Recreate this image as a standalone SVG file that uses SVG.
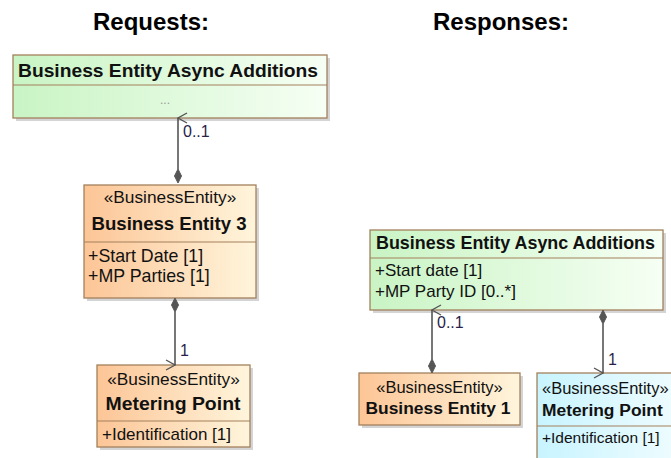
<svg xmlns="http://www.w3.org/2000/svg" width="671" height="458" viewBox="0 0 671 458">
<defs>
<linearGradient id="gOrange" x1="0" y1="0" x2="1" y2="0">
<stop offset="0" stop-color="#fcc596"/>
<stop offset="1" stop-color="#fff5dc"/>
</linearGradient>
<linearGradient id="gGreen" x1="0" y1="0" x2="1" y2="0">
<stop offset="0" stop-color="#c9f4c4"/>
<stop offset="1" stop-color="#f6fff4"/>
</linearGradient>
<linearGradient id="gCyan" x1="0" y1="0" x2="1" y2="0">
<stop offset="0" stop-color="#c8f4ff"/>
<stop offset="1" stop-color="#eefcff"/>
</linearGradient>
<marker id="open" markerWidth="12" markerHeight="12" refX="6" refY="1" orient="auto-start-reverse" markerUnits="userSpaceOnUse" viewBox="0 0 12 12">
<path d="M1,10 L6,1 L11,10" fill="none" stroke="#555" stroke-width="1.4"/>
</marker>
</defs>
<style>
.box{stroke:#a3805c;stroke-width:1.3}
.shadow{fill:#b8b8b8;opacity:0.6}
.sep{stroke:#a3805c;stroke-width:1.2}
.title{font-family:"Liberation Sans",Arial,sans-serif;font-weight:bold;font-size:24px;fill:#000}
.b{font-family:"Liberation Sans",Arial,sans-serif;font-weight:bold;fill:#111}
.r{font-family:"Liberation Sans",Arial,sans-serif;fill:#111}
.lbl{font-family:"Liberation Sans",Arial,sans-serif;font-size:16px;fill:#2a1f4a}
.line{stroke:#555;stroke-width:1.6;fill:none}
.dia{fill:#555;stroke:#555;stroke-width:1}
</style>
<text class="title" x="93" y="30">Requests:</text>
<text class="title" x="433" y="30">Responses:</text>

<g id="req-beaa">
<rect class="shadow" x="16" y="58" width="314" height="63"/>
<rect class="box" x="13" y="55" width="314" height="63" fill="url(#gGreen)"/>
<line class="sep" x1="13" y1="85" x2="327" y2="85"/>
<text class="b" x="18" y="77" font-size="18.8" textLength="300" lengthAdjust="spacingAndGlyphs">Business Entity Async Additions</text>
<text class="r" x="165" y="104" font-size="12" fill="#999" text-anchor="middle" style="fill:#999">...</text>
</g>

<g id="req-be3">
<rect class="shadow" x="87" y="188" width="172" height="113"/>
<rect class="box" x="84" y="185" width="172" height="113" fill="url(#gOrange)"/>
<line class="sep" x1="84" y1="242" x2="256" y2="242"/>
<text class="r" x="170" y="203" font-size="17.3" text-anchor="middle">«BusinessEntity»</text>
<text class="b" x="169" y="230" font-size="18.6" text-anchor="middle">Business Entity 3</text>
<text class="r" x="88" y="262" font-size="17.8">+Start Date [1]</text>
<text class="r" x="88" y="282" font-size="17.8">+MP Parties [1]</text>
</g>

<g id="req-mp">
<rect class="shadow" x="100" y="368" width="153" height="82"/>
<rect class="box" x="97" y="365" width="153" height="82" fill="url(#gOrange)"/>
<line class="sep" x1="97" y1="421" x2="250" y2="421"/>
<text class="r" x="173.5" y="385" font-size="17.3" text-anchor="middle">«BusinessEntity»</text>
<text class="b" x="173" y="410" font-size="18.6" text-anchor="middle" textLength="135" lengthAdjust="spacingAndGlyphs">Metering Point</text>
<text class="r" x="102" y="440" font-size="17">+Identification [1]</text>
</g>

<g id="resp-beaa">
<rect class="shadow" x="373" y="233" width="293" height="80"/>
<rect class="box" x="370" y="230" width="293" height="80" fill="url(#gGreen)"/>
<line class="sep" x1="370" y1="258" x2="663" y2="258"/>
<text class="b" x="376" y="249" font-size="17.8" textLength="279" lengthAdjust="spacingAndGlyphs">Business Entity Async Additions</text>
<text class="r" x="375" y="276" font-size="17">+Start date [1]</text>
<text class="r" x="375" y="297" font-size="17">+MP Party ID [0..*]</text>
</g>

<g id="resp-be1">
<rect class="shadow" x="362" y="376" width="161" height="52"/>
<rect class="box" x="359" y="373" width="161" height="52" fill="url(#gOrange)"/>
<text class="r" x="439.5" y="393" font-size="16.5" text-anchor="middle">«BusinessEntity»</text>
<text class="b" x="438" y="414" font-size="17.4" text-anchor="middle">Business Entity 1</text>
</g>

<g id="resp-mp">
<rect class="shadow" x="540" y="376" width="140" height="90"/>
<rect class="box" x="537" y="373" width="140" height="90" fill="url(#gCyan)"/>
<line class="sep" x1="537" y1="426" x2="677" y2="426"/>
<text class="r" x="542" y="394" font-size="16.5">«BusinessEntity»</text>
<text class="b" x="542" y="416" font-size="17.4">Metering Point</text>
<text class="r" x="542" y="443" font-size="15.5">+Identification [1]</text>
</g>

<g id="connectors">
<path class="line" d="M178,169 L178,118" marker-end="url(#open)"/>
<path class="dia" d="M178,169 L181.5,176 L178,183 L174.5,176 Z"/>
<text class="lbl" x="183" y="137">0..1</text>

<path class="line" d="M175,312 L175,365" marker-end="url(#open)"/>
<path class="dia" d="M175,298 L178.5,305 L175,312 L171.5,305 Z"/>
<text class="lbl" x="180" y="356">1</text>

<path class="line" d="M432,359 L432,310" marker-end="url(#open)"/>
<path class="dia" d="M432,359 L435.5,366 L432,373 L428.5,366 Z"/>
<text class="lbl" x="437" y="328">0..1</text>

<path class="line" d="M603,324 L603,373" marker-end="url(#open)"/>
<path class="dia" d="M603,310 L606.5,317 L603,324 L599.5,317 Z"/>
<text class="lbl" x="608" y="365">1</text>
</g>
</svg>
